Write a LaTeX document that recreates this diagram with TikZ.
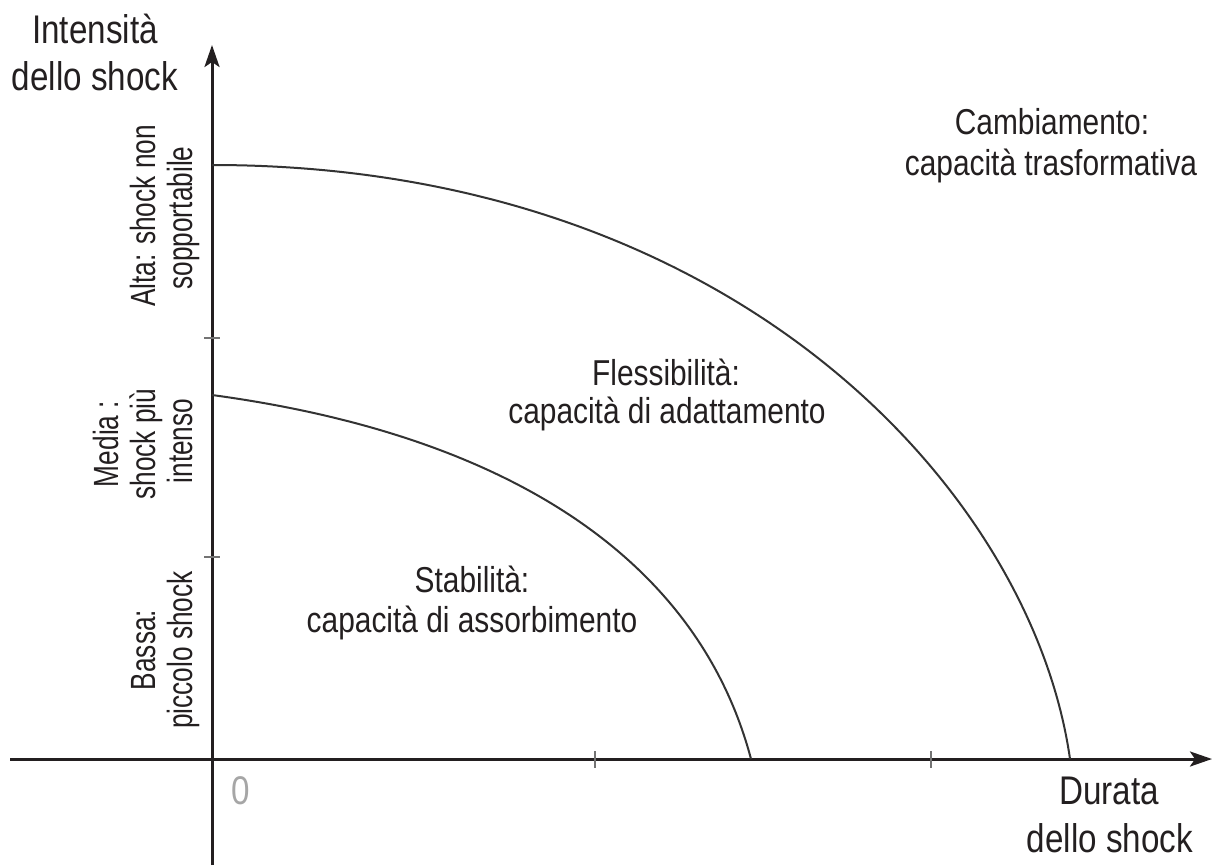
\documentclass[tikz,border=0pt]{standalone}
\usepackage{fontspec}
\setmainfont{Liberation Sans}[FakeStretch=0.83]
\newfontfamily\ylabfont{Liberation Sans}[FakeStretch=0.75]
\usetikzlibrary{arrows.meta}
\definecolor{ink}{HTML}{231F20}
\tikzset{
  axisline/.style={line width=3pt, ink, -{Stealth[length=22pt,width=15pt,inset=5pt]}},
  tickmark/.style={line width=1.5pt, black!55},
  curveline/.style={line width=2pt, black!80},
  axislabel/.style={font=\fontsize{40}{44}\selectfont, text=ink, anchor=base, inner sep=0pt},
  regionlabel/.style={font=\fontsize{36}{40}\selectfont, text=ink, anchor=base, inner sep=0pt},
  ylabel/.style={font=\ylabfont\fontsize{35}{38}\selectfont, text=ink, anchor=base, inner sep=0pt, rotate=90},
}
\begin{document}
\begin{tikzpicture}[x=1pt,y=-1pt]
\useasboundingbox (0,0) rectangle (1218,865);
% axes
\coordinate (O) at (212,759);
\coordinate (xstart) at (10,759);
\coordinate (xend) at (1212,759);
\coordinate (ystart) at (212,865);
\coordinate (yend) at (212,45);
\draw[axisline] (xstart) -- (xend);
\draw[axisline] (ystart) -- (yend);
% ticks
\draw[tickmark] (204,338) -- (220,338);
\draw[tickmark] (204,557) -- (220,557);
\draw[tickmark] (595,751) -- (595,768);
\draw[tickmark] (931,751) -- (931,768);
% curves
\draw[curveline] (212,165) .. controls (735,165) and (1032,492) .. (1070,759);
\draw[curveline] (212,395) .. controls (508,435) and (698,559) .. (751,759);
% axis labels
\node[axislabel] (int1) at (95,43) {Intensità};
\node[axislabel] (int2) at (95,90) {dello shock};
\node[axislabel] (dur1) at (1109,804) {Durata};
\node[axislabel] (dur2) at (1110,852) {dello shock};
\node[axislabel, text=black!35] (zero) at (241,804) {0};
% region labels
\node[regionlabel] (camb1) at (1052,134) {Cambiamento:};
\node[regionlabel] (camb2) at (1051,175) {capacità trasformativa};
\node[regionlabel] (fless1) at (666,385) {Flessibilità:};
\node[regionlabel] (fless2) at (667,423) {capacità di adattamento};
\node[regionlabel] (stab1) at (472,592) {Stabilità:};
\node[regionlabel] (stab2) at (472,632) {capacità di assorbimento};
% y labels
\node[ylabel] (alta1) at (155,216) {Alta: shock non};
\node[ylabel] (alta2) at (192,218) {sopportabile};
\node[ylabel] (media1) at (118,444) {Media :};
\node[ylabel] (media2) at (155,444) {shock più};
\node[ylabel] (media3) at (192,441) {intenso};
\node[ylabel] (bassa1) at (155,650) {Bassa:};
\node[ylabel] (bassa2) at (192,650) {piccolo shock};
\end{tikzpicture}
\end{document}
